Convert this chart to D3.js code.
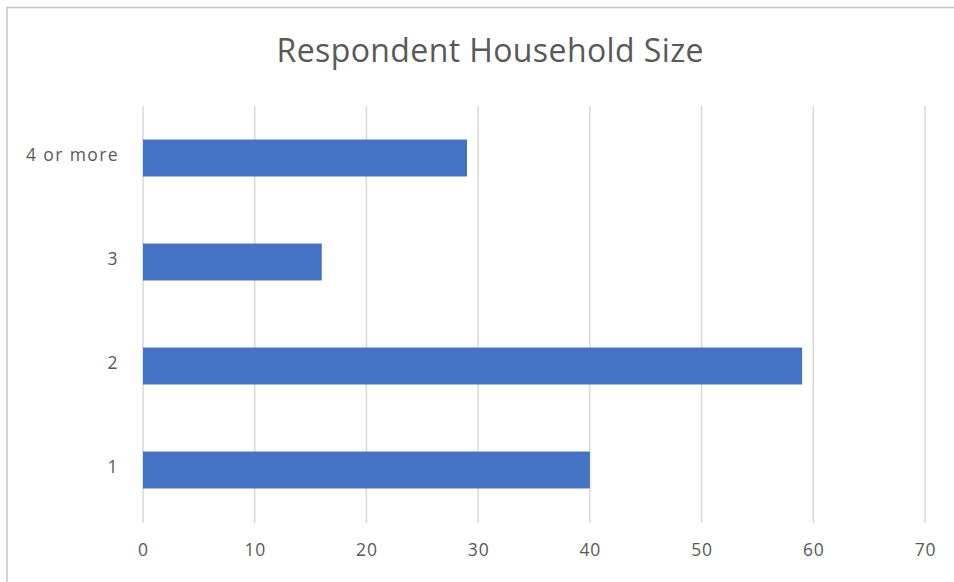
<!DOCTYPE html>
<html><head><meta charset="utf-8">
<script src="https://cdn.jsdelivr.net/npm/d3@7"></script>
<style>body{margin:0;background:#fff}svg{display:block}</style>
</head><body>
<svg id="c" width="954" height="582"></svg>
<script>
const categories = ["1", "2", "3", "4 or more"];
const values = [40, 59, 16, 29];
const xTicks = [0, 10, 20, 30, 40, 50, 60, 70];
const title = "Respondent Household Size";

const svg = d3.select("#c");
const font = "'Open Sans', 'Noto Sans', sans-serif";
// chart frame
svg.append("path").attr("d", "M7,600 V7.5 H960").attr("fill", "none").attr("stroke", "#c6c6c6").attr("stroke-width", 1.5);

const x = d3.scaleLinear().domain([0, 70]).range([143, 925]);
const y = d3.scaleBand().domain(categories.slice().reverse()).range([106, 522]).paddingInner(0.645).paddingOuter(0.3225);

const grid = svg.append("g");
grid.selectAll("line").data(xTicks).join("line")
  .attr("x1", d => x(d)).attr("x2", d => x(d))
  .attr("y1", 106).attr("y2", 523)
  .attr("stroke", "#d9d9d9").attr("stroke-width", 1.5);

svg.append("g").selectAll("rect").data(categories).join("rect")
  .attr("x", x(0)).attr("y", d => y(d))
  .attr("width", (d, i) => x(values[i]) - x(0))
  .attr("height", y.bandwidth())
  .attr("fill", "#4472c4");

const xa = d3.axisBottom(x).tickValues(xTicks).tickSize(0).tickPadding(0);
const gx = svg.append("g").attr("transform", "translate(0,544)").call(xa);
gx.select(".domain").remove();
gx.selectAll("text").attr("font-family", font).attr("font-size", 17.5).attr("letter-spacing", 0.8).attr("fill", "#595959").attr("dy", "0.71em");

const ya = d3.axisLeft(y).tickSize(0).tickPadding(24);
const gy = svg.append("g").attr("transform", "translate(143,0)").call(ya);
gy.select(".domain").remove();
gy.selectAll("text").attr("font-family", font).attr("font-size", 17.5).attr("letter-spacing", 1.4).attr("fill", "#595959").attr("dy", "0.15em");

svg.append("text").attr("x", 490).attr("y", 62).attr("text-anchor", "middle")
  .attr("font-family", font).attr("font-size", 32).attr("fill", "#595959")
  .attr("textLength", 427).attr("lengthAdjust", "spacing").text(title);
</script>
</body></html>
